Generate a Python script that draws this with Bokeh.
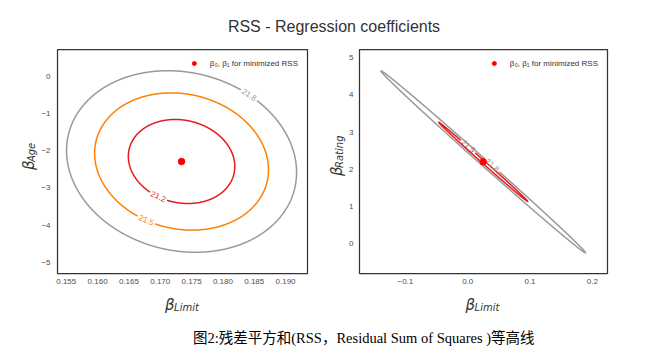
import numpy as np
from bokeh.plotting import figure
from bokeh.layouts import column, row
from bokeh.models import Div, FixedTicker, Range1d
from bokeh.core.properties import value
from bokeh.embed import file_html
from bokeh.resources import INLINE

# ---------------- data ----------------
contour_levels = [21.25, 21.5, 21.8]            # RSS (millions)
set1 = ["#e41a1c", "#377eb8", "#4daf4a", "#984ea3", "#ff7f00",
        "#ffff33", "#a65628", "#f781bf", "#999999"]

# Balance ~ Limit + Age
age_min_coef = [0.1734, -2.29]                   # (beta_Limit, beta_Age) at minimum RSS
age_min_rss = 21.10
age_spread = [0.02194, 2.916]                    # extent per sqrt(RSS - min)
age_corr = -0.12
age_xticks = [0.155, 0.160, 0.165, 0.170, 0.175, 0.180, 0.185, 0.190]
age_yticks = [-5, -4, -3, -2, -1, 0]

# Balance ~ Limit + Rating
rating_min_coef = [0.0249, 2.20]
rating_min_rss = 21.43
rating_spread = [0.270, 4.02]
rating_corr = -0.9988
rating_xticks = [-0.1, 0.0, 0.1, 0.2]
rating_yticks = [0, 1, 2, 3, 4, 5]

legend_text = "β₀, β₁ for minimized RSS"
x_name = "Limit"
y_names = ["Age", "Rating"]

TXT = "#333333"
TICK = "#4d4d4d"
FR_TOP, FR_H = 49, 224          # page y of frame top, frame height
FIG_TOP, FIG_H = 40, 251


def fmt(v, dec):
    return f"{v:.{dec}f}".replace("-", "\u2212")


def make_panel(xr, yr, xticks, yticks, xdec, ydec, cmin, rss_min, spread, corr,
               label_deg, frame_w, bl, br, ystandoff):
    p = figure(width=bl + frame_w + br, height=FIG_H,
               x_range=Range1d(*xr), y_range=Range1d(*yr),
               output_backend="svg", toolbar_location=None,
               min_border_left=bl, min_border_right=br,
               min_border_top=FR_TOP - FIG_TOP,
               min_border_bottom=FIG_H - FR_H - (FR_TOP - FIG_TOP))
    p.background_fill_color = "white"
    p.border_fill_color = "white"
    p.outline_line_color = "#333333"
    p.outline_line_width = 1.25
    p.xgrid.visible = False
    p.ygrid.visible = False
    for ax, ticks, dec in ((p.xaxis[0], xticks, xdec), (p.yaxis[0], yticks, ydec)):
        ax.ticker = FixedTicker(ticks=ticks)
        ax.major_label_overrides = {t: fmt(t, dec) for t in ticks}
        ax.axis_line_color = None
        ax.major_tick_line_color = None
        ax.minor_tick_line_color = None
        ax.major_tick_out = 0
        ax.major_tick_in = 0
        ax.minor_tick_out = 0
        ax.major_label_text_font = "Liberation Sans"
        ax.major_label_text_font_size = "8px"
        ax.major_label_text_color = TICK
    p.xaxis.major_label_standoff = 5
    p.yaxis.major_label_standoff = ystandoff

    sxp = frame_w / (xr[1] - xr[0])
    syp = FR_H / (yr[1] - yr[0])
    lv = [L for L in contour_levels if L > rss_min]
    n = len(lv)
    for i, L in enumerate(lv):
        color = set1[int(round(i / (n - 1) * 8))] if n > 1 else set1[0]
        k = np.sqrt(L - rss_min)
        tl = np.deg2rad(label_deg[i])
        t = tl + np.linspace(0, 2 * np.pi, 3000)
        x = cmin[0] + spread[0] * k * np.cos(t)
        y = cmin[1] + spread[1] * k * (corr * np.cos(t) + np.sqrt(1 - corr ** 2) * np.sin(t))
        d = np.hypot((x - x[0]) * sxp, (y - y[0]) * syp)
        ok = np.where(d >= 9.5)[0]
        i0, i1 = ok[0], ok[-1]
        p.line(x[i0:i1 + 1], y[i0:i1 + 1], line_color=color, line_width=1.5)
        ddx = -spread[0] * k * np.sin(tl) * sxp
        ddy = spread[1] * k * (-corr * np.sin(tl) + np.sqrt(1 - corr ** 2) * np.cos(tl)) * syp
        ang = np.arctan2(ddy, ddx)
        if ang > np.pi / 2:
            ang -= np.pi
        if ang <= -np.pi / 2:
            ang += np.pi
        p.text(x=[x[0]], y=[y[0]], text=[f"{L:.1f}"], angle=ang, text_color=color,
               text_font=value("Liberation Sans"), text_font_size="8px",
               text_align="center", text_baseline="middle")

    p.scatter(x=[cmin[0]], y=[cmin[1]], size=6.5, fill_color="red", line_color="red",
              legend_label=legend_text)
    lg = p.legend[0]
    lg.location = "top_right"
    lg.border_line_alpha = 0
    lg.background_fill_alpha = 0
    lg.label_text_font = "Liberation Sans"
    lg.label_text_font_size = "8px"
    lg.label_text_color = TXT
    lg.glyph_width = 10
    lg.glyph_height = 10
    lg.label_height = 10
    lg.label_standoff = 11
    lg.margin = 4
    lg.padding = 5
    return p


def blank(x0, x1, y_top, y_bot):
    """A figure without axes whose data coordinates are page pixels."""
    f = figure(width=x1 - x0, height=y_bot - y_top,
               x_range=Range1d(x0, x1), y_range=Range1d(y_bot, y_top),
               output_backend="svg", toolbar_location=None,
               x_axis_location=None, y_axis_location=None,
               min_border_left=0, min_border_right=0, min_border_top=0, min_border_bottom=0)
    f.outline_line_color = None
    f.xgrid.visible = False
    f.ygrid.visible = False
    f.background_fill_color = "white"
    f.border_fill_color = "white"
    return f


BETA_W, SUB_W = 9.0, {"Limit": 24.8, "Age": 19.3, "Rating": 32.5}


def beta_text(f, cx, cy, sub, vertical):
    total = BETA_W + SUB_W[sub]
    kw = dict(text_font=value("DejaVu Sans"), text_font_style="italic",
              text_color=TXT, text_align="left", text_baseline="alphabetic")
    if not vertical:
        x0 = cx - total / 2
        f.text(x=[x0], y=[cy], text=["β"], text_font_size="15px", **kw)
        f.text(x=[x0 + BETA_W], y=[cy + 2], text=[sub], text_font_size="10px", **kw)
    else:
        y0 = cy + total / 2
        f.text(x=[cx], y=[y0], text=["β"], angle=np.pi / 2, text_font_size="15px", **kw)
        f.text(x=[cx + 2], y=[y0 - BETA_W], text=[sub], angle=np.pi / 2,
               text_font_size="10px", **kw)


# panels: left frame spans page x 56..307, right frame 357..607
p1 = make_panel((0.1536, 0.1935), (-5.30, 0.72), age_xticks, age_yticks, 3, 0,
                age_min_coef, age_min_rss, age_spread, age_corr,
                [244, 246, 54], 251, 18, 5, 7)
p2 = make_panel((-0.1737, 0.2244), (-0.80, 5.22), rating_xticks, rating_yticks, 1, 0,
                rating_min_coef, rating_min_rss, rating_spread, rating_corr,
                [110, 85], 250, 11, 61, 6)

fc = FR_TOP + FR_H / 2
yl1 = blank(0, 38, FIG_TOP, FIG_TOP + FIG_H)
beta_text(yl1, 28.5, fc, y_names[0], True)
yl2 = blank(312, 346, FIG_TOP, FIG_TOP + FIG_H)
beta_text(yl2, 336.5, fc, y_names[1], True)

xl = blank(0, 668, FIG_TOP + FIG_H, 323)
beta_text(xl, (56 + 307) / 2, 304.5, x_name, False)
beta_text(xl, (357 + 607) / 2, 304.5, x_name, False)

title = Div(text="<div style=\"width:668px;text-align:center;font-family:'Liberation Sans';"
                 "font-size:16px;line-height:16px;color:#333333;padding-top:19px;\">"
                 "RSS - Regression coefficients</div>",
            width=668, height=40, margin=0)
caption = Div(text="<div style=\"font-family:'Liberation Serif','Noto Sans CJK SC';"
                   "font-size:14.5px;line-height:16px;color:#000000;padding-top:7px;"
                   "padding-left:193px;white-space:nowrap;\">"
                   "图2:残差平方和(RSS，Residual Sum of Squares )等高线</div>",
              width=668, height=30, margin=0)

layout = column(title, row(yl1, p1, yl2, p2, spacing=0), xl, caption, spacing=0)

with open("out.html", "w") as f:
    f.write(file_html(layout, INLINE))
